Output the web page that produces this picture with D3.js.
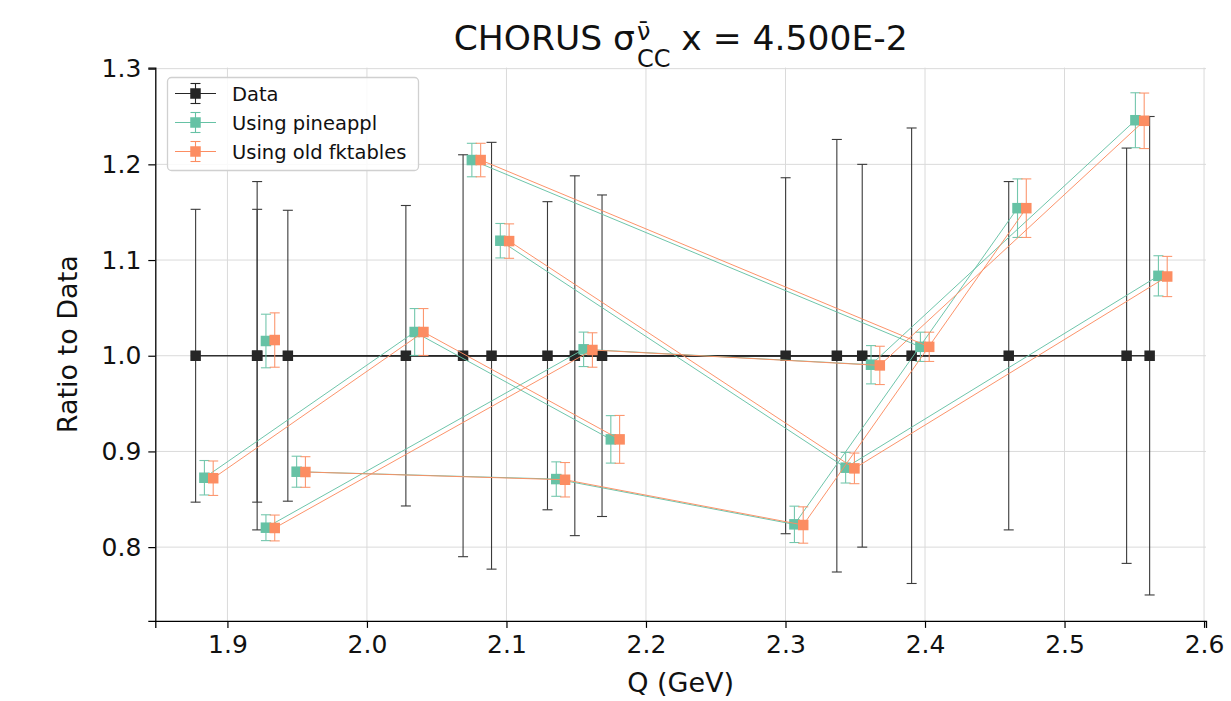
<!DOCTYPE html>
<html>
<head>
<meta charset="utf-8">
<script src="https://cdn.jsdelivr.net/npm/d3@7"></script>
<style>
  html, body { margin: 0; padding: 0; background: #fff; }
  text { font-family: "DejaVu Sans", sans-serif; }
</style>
</head>
<body>
<svg id="chart" width="1231" height="701"></svg>
<script>
// ---- data (data order; points of one group are joined by lines) ----
const groups    = [0,0,0, 1, 2,2,2,2, 3,3,3,3, 4,4, 5,5,5];
const Q         = [1.8772,2.0279,2.1685, 1.9213, 1.9213,2.1490,2.3550,2.5445, 1.9433,2.1294,2.3001,2.4600, 2.0689,2.3904, 2.0893,2.3368,2.5610];
const dataRatio = Q.map(() => 1.0);
const dataErr   = [0.153,0.157,0.168, 0.182, 0.153,0.188,0.200,0.217, 0.152,0.161,0.186,0.182, 0.210,0.238, 0.223,0.226,0.250];
const pineRatio = [0.8725,1.0248,0.9126, 1.0154, 0.8203,1.0067,0.9906,1.2461, 0.8788,0.8711,0.8238,1.1542, 1.2045,1.0093, 1.1202,0.8830,1.0835];
const pineErr   = [0.018,0.0245,0.0248, 0.028, 0.0135,0.018,0.020,0.0287, 0.0162,0.018,0.019,0.0306, 0.0175,0.0153, 0.018,0.016,0.021];
const fkRatio   = [0.8720,1.0248,0.9126, 1.0164, 0.8200,1.0060,0.9899,1.2455, 0.8785,0.8704,0.8231,1.1542, 1.2045,1.0093, 1.1198,0.8823,1.0828];
const fkErr     = [0.018,0.0245,0.025, 0.0284, 0.0135,0.018,0.020,0.029, 0.016,0.018,0.019,0.0306, 0.0175,0.0153, 0.018,0.016,0.021];
const seriesNames = ["Data", "Using pineappl", "Using old fktables"];
const xShift = 0.0063; // horizontal displacement between series (Q units)
const xTicks = [1.9, 2.0, 2.1, 2.2, 2.3, 2.4, 2.5, 2.6];
const yTicks = [0.8, 0.9, 1.0, 1.1, 1.2, 1.3];

// ---- layout ----
const svg = d3.select("#chart");
const L = 155.3, R = 1206, T = 67.6, B = 620.9;
const x = d3.scaleLinear().domain([1.8483, 2.6014]).range([L, R]);
const y = d3.scaleLinear().domain([0.7229, 1.3011]).range([B, T]);

const colors = ["#262626", "#66c2a5", "#fc8d62"];
const tickFont = 25, labelFont = 27;

// grid
const grid = svg.append("g");
grid.selectAll("line.gx").data(xTicks).enter().append("line")
  .attr("x1", d => x(d)).attr("x2", d => x(d)).attr("y1", T).attr("y2", B)
  .attr("stroke", "#dadada").attr("stroke-width", 1);
grid.selectAll("line.gy").data(yTicks).enter().append("line")
  .attr("x1", L).attr("x2", R).attr("y1", d => y(d)).attr("y2", d => y(d))
  .attr("stroke", "#dadada").attr("stroke-width", 1);

// axes
const xAxis = svg.append("g").attr("transform", `translate(0,${B})`)
  .call(d3.axisBottom(x).tickValues(xTicks).tickFormat(d3.format(".1f")).tickSizeOuter(0).tickSize(7).tickPadding(7));
const yAxis = svg.append("g").attr("transform", `translate(${L},0)`)
  .call(d3.axisLeft(y).tickValues(yTicks).tickFormat(d3.format(".1f")).tickSizeOuter(0).tickSize(7).tickPadding(7));
[xAxis, yAxis].forEach(a => {
  a.select(".domain").attr("stroke", "#000").attr("stroke-width", 1.3);
  a.selectAll(".tick line").attr("stroke", "#000").attr("stroke-width", 1.2);
  a.selectAll(".tick text").attr("font-size", tickFont).attr("fill", "#111")
   .style("font-family", "'DejaVu Sans', sans-serif");
});

// series
const series = [
  {ratio: dataRatio, err: dataErr, shift: 0},
  {ratio: pineRatio, err: pineErr, shift: 1},
  {ratio: fkRatio,   err: fkErr,   shift: 2}
];
const groupIds = Array.from(new Set(groups));
const ms = 10.5, cap = 5;

series.forEach((s, si) => {
  const g = svg.append("g");
  const col = colors[si];
  const px = i => x(Q[i] + s.shift * xShift);
  const idx = Q.map((_, i) => i);
  const line = d3.line().x(i => px(i)).y(i => y(s.ratio[i]));
  groupIds.forEach(gid => {
    const pts = idx.filter(i => groups[i] === gid);
    if (pts.length > 1) {
      g.append("path").attr("d", line(pts)).attr("fill", "none")
        .attr("stroke", col).attr("stroke-width", si === 0 ? 1.6 : 1)
        .attr("opacity", 0.95);
    }
  });
  const eb = g.append("g").attr("stroke", col).attr("stroke-width", 1.1).attr("opacity", 0.9);
  idx.forEach(i => {
    const xx = px(i), y1 = y(s.ratio[i] + s.err[i]), y0 = y(s.ratio[i] - s.err[i]);
    eb.append("line").attr("x1", xx).attr("x2", xx).attr("y1", y1).attr("y2", y0);
    eb.append("line").attr("x1", xx - cap).attr("x2", xx + cap).attr("y1", y1).attr("y2", y1);
    eb.append("line").attr("x1", xx - cap).attr("x2", xx + cap).attr("y1", y0).attr("y2", y0);
  });
  g.selectAll("rect").data(idx).enter().append("rect")
    .attr("x", i => px(i) - ms / 2).attr("y", i => y(s.ratio[i]) - ms / 2)
    .attr("width", ms).attr("height", ms).attr("fill", col);
});

// legend
const lg = svg.append("g");
lg.append("rect").attr("x", 167.5).attr("y", 77.5).attr("width", 251).attr("height", 93)
  .attr("rx", 4).attr("fill", "#fff").attr("fill-opacity", 0.85)
  .attr("stroke", "#d0d0d0").attr("stroke-width", 1.3);
seriesNames.forEach((name, k) => {
  const cy = 93.5 + k * 29, cx = 195.5, col = colors[k];
  lg.append("line").attr("x1", 175).attr("x2", 216).attr("y1", cy).attr("y2", cy)
    .attr("stroke", col).attr("stroke-width", 1.2);
  lg.append("line").attr("x1", cx).attr("x2", cx).attr("y1", cy - 10).attr("y2", cy + 10)
    .attr("stroke", col).attr("stroke-width", 1.1);
  [cy - 10, cy + 10].forEach(yy => lg.append("line").attr("x1", cx - 5).attr("x2", cx + 5)
    .attr("y1", yy).attr("y2", yy).attr("stroke", col).attr("stroke-width", 1.1));
  lg.append("rect").attr("x", cx - 5.25).attr("y", cy - 5.25).attr("width", 10.5).attr("height", 10.5)
    .attr("fill", col);
  lg.append("text").attr("x", 232).attr("y", cy).attr("dy", "0.36em")
    .attr("font-size", 19.5).attr("fill", "#111").text(name);
});

// axis labels
svg.append("text").attr("x", (L + R) / 2).attr("y", 692).attr("text-anchor", "middle")
  .attr("font-size", labelFont).attr("fill", "#111").text("Q (GeV)");
svg.append("text").attr("transform", `translate(77,${(T + B) / 2}) rotate(-90)`)
  .attr("text-anchor", "middle").attr("font-size", labelFont).attr("fill", "#111").text("Ratio to Data");

// title with stacked super/subscript
const tg = svg.append("g");
const fs = 34.5, fsS = 24;
const t1 = tg.append("text").attr("y", 49.5).attr("font-size", fs).attr("fill", "#111").text("CHORUS σ");
const w1 = t1.node().getComputedTextLength();
const sup = tg.append("text").attr("y", 40).attr("font-size", fsS).attr("fill", "#111").text("ν\u0304");
const sub = tg.append("text").attr("y", 67).attr("font-size", fsS).attr("fill", "#111").text("CC");
const wS = Math.max(sup.node().getComputedTextLength(), sub.node().getComputedTextLength());
const t2 = tg.append("text").attr("y", 49.5).attr("font-size", fs).attr("fill", "#111").text("\u00a0x = 4.500E-2");
const w2 = t2.node().getComputedTextLength();
const total = w1 + 2 + wS + w2;
const x0 = (L + R) / 2 - total / 2;
t1.attr("x", x0);
sup.attr("x", x0 + w1 + 2);
sub.attr("x", x0 + w1 + 2);
t2.attr("x", x0 + w1 + 2 + wS);
</script>
</body>
</html>
